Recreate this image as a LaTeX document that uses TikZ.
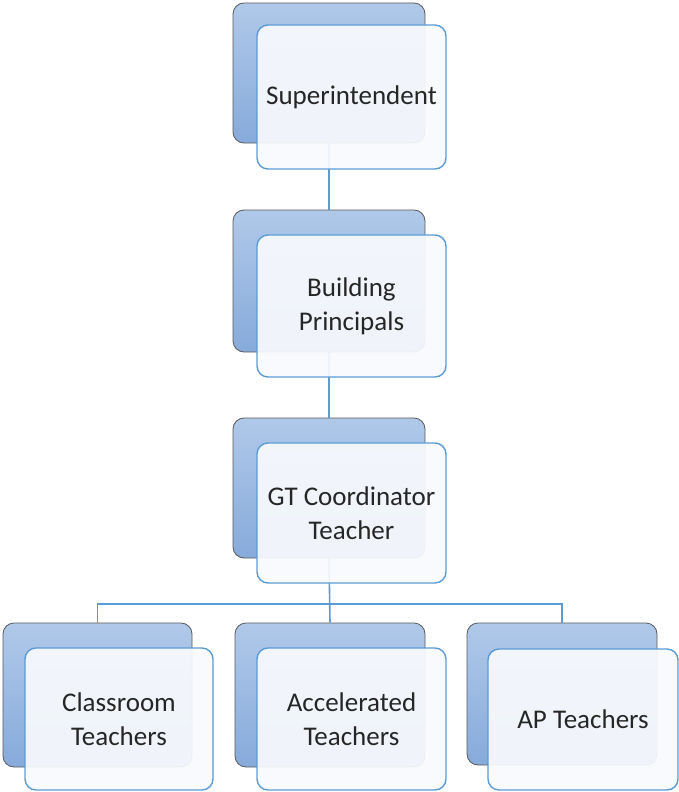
\documentclass[tikz,border=0pt]{standalone}
\usepackage{fontspec}
\setmainfont{Carlito}
\begin{document}
\begin{tikzpicture}[x=1pt,y=-1pt,
  backbox/.style={draw=black!65, line width=0.8pt, rounded corners=11pt,
    top color=backtop, bottom color=backbot, inner sep=0pt},
  frontbox/.style={draw=frontline, line width=1.4pt, rounded corners=11pt,
    fill=frontfill, fill opacity=0.93, text opacity=1, text=black!85,
    align=center, inner sep=0pt,
    font=\fontsize{27}{34}\selectfont},
  link/.style={draw=frontline, line width=1.6pt}
]
\definecolor{backtop}{HTML}{B0C9E9}
\definecolor{backbot}{HTML}{86AADB}
\definecolor{frontline}{HTML}{5B9BD5}
\definecolor{frontfill}{HTML}{F8FAFD}
\useasboundingbox (0,0) rectangle (679,792);

% rear cards
\node[backbox, minimum width=192pt, minimum height=140pt] (b1) at (329,73) {};
\node[backbox, minimum width=192pt, minimum height=142pt] (b2) at (329,281) {};
\node[backbox, minimum width=192pt, minimum height=140pt] (b3) at (329,488) {};
\node[backbox, minimum width=189pt, minimum height=144pt] (b4) at (97.5,695) {};
\node[backbox, minimum width=190pt, minimum height=144pt] (b5) at (330,695) {};
\node[backbox, minimum width=190pt, minimum height=142pt] (b6) at (562,694) {};

% connectors
\coordinate (hub) at (331,604);
\draw[link] (b1.south) -- (b2.north);
\draw[link] (b2.south) -- (b3.north);
\draw[link] (b3.south) -- (b5.north);
\draw[link] (b4.north) -- (b4.north |- hub) -- (b6.north |- hub) -- (b6.north);

% front cards
\node[frontbox, minimum width=189pt, minimum height=144pt] (f1) at (351.5,97) {Superintendent};
\node[frontbox, minimum width=189pt, minimum height=142pt] (f2) at (351.5,306) {Building\\Principals};
\node[frontbox, minimum width=189pt, minimum height=140pt] (f3) at (351.5,513) {GT Coordinator\\Teacher};
\node[frontbox, minimum width=188pt, minimum height=142pt] (f4) at (119,719) {Classroom\\Teachers};
\node[frontbox, minimum width=189pt, minimum height=142pt] (f5) at (351.5,719) {Accelerated\\Teachers};
\node[frontbox, minimum width=190pt, minimum height=141pt] (f6) at (583,719.5) {AP Teachers};
\end{tikzpicture}
\end{document}
